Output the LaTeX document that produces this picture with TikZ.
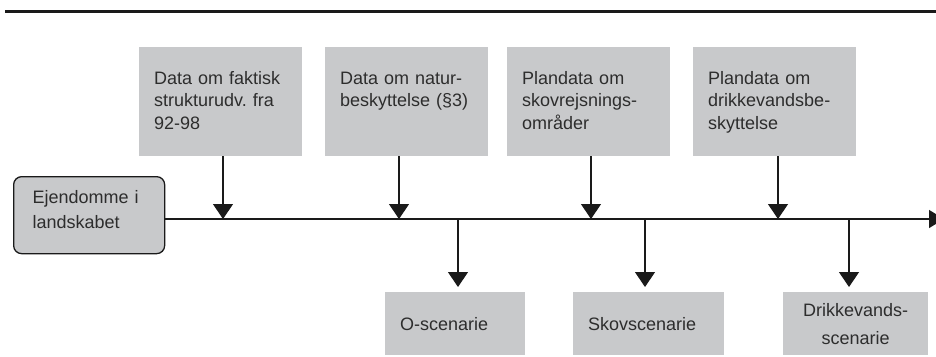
\documentclass[tikz,border=0pt]{standalone}
\usepackage{fontspec}
\setmainfont{Liberation Sans}
\usepackage{tikz}
\usetikzlibrary{arrows.meta}
\usetikzlibrary{calc}
\definecolor{boxgrey}{RGB}{200,201,203}
\definecolor{inkline}{RGB}{26,26,26}
\definecolor{inktext}{RGB}{45,45,45}
\frenchspacing

\begin{document}
\begin{tikzpicture}[x=1pt,y=-1pt,
    databox/.style={fill=boxgrey,text=inktext,anchor=north west,align=left,text width=133pt,
      inner xsep=15pt,inner ysep=20pt,text height=17pt,text depth=52pt,
      font=\fontsize{18}{22.5}\selectfont},
    scenbox/.style={fill=boxgrey,text=inktext,anchor=north west,minimum height=63pt,
      inner xsep=15pt,font=\fontsize{18}{28}\selectfont},
    feed/.style={line width=1.3pt,draw=inkline,-{Triangle[width=20pt,length=15pt]}}]
  \useasboundingbox (0,0) rectangle (936,356);
  \clip (0,0) rectangle (936,356);
  \draw[line width=3pt,inkline] (5,11) -- (936,11);

  \node[databox] (d1) at (139,47) {Data om faktisk\\strukturudv. fra\\92-98};
  \node[databox] (d2) at (325,47) {Data om natur-\\beskyttelse (§3)};
  \node[databox] (d3) at (507,47) {Plandata om\\skovrejsnings-\\områder};
  \node[databox] (d4) at (693,47) {Plandata om\\drikkevandsbe-\\skyttelse};

  \node[fill=boxgrey,draw=inkline,text=inktext,line width=1.3pt,rounded corners=8pt,
    anchor=north west,align=left,text width=113pt,inner xsep=19pt,inner ysep=14pt,
    text height=13pt,text depth=36pt,font=\fontsize{18}{25}\selectfont]
    (ejd) at (13,176) {Ejendomme i\\landskabet};

  \node[scenbox,align=left,text width=110pt] (osc) at (385,292) {O-scenarie};
  \node[scenbox,align=left,text width=121pt] (skov) at (573,292) {Skovscenarie};
  \node[scenbox,align=center,text width=115pt] (drik) at (783,292) {Drikkevands-\\scenarie};

  \coordinate (in1) at (223,219);
  \coordinate (in2) at (399,219);
  \coordinate (in3) at (591,219);
  \coordinate (in4) at (778,219);
  \coordinate (out1) at (458,219);
  \coordinate (out2) at (645,219);
  \coordinate (out3) at (849,219);
  \coordinate (tip) at (944,219);

  \draw[feed,-{Triangle[width=18pt,length=15pt]}] (ejd.east |- tip) -- (tip);
  \foreach \n in {1,...,4}
    \draw[feed] (in\n |- d\n.south) -- (in\n);
  \foreach \c/\b in {out1/osc,out2/skov,out3/drik}
    \draw[feed,shorten >=5pt] (\c) -- (\c |- \b.north);
\end{tikzpicture}
\end{document}
